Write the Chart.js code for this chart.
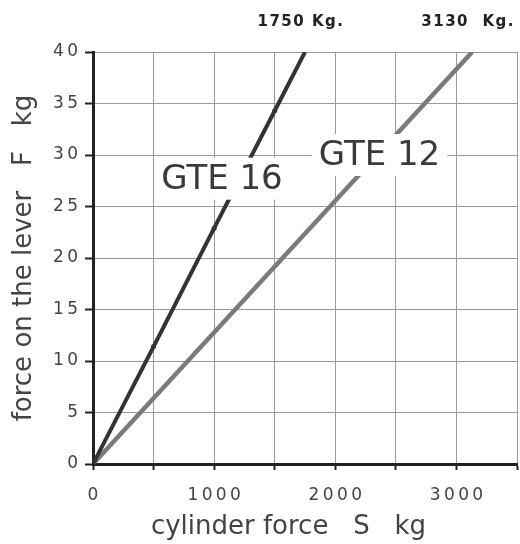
<!DOCTYPE html>
<html>
<head>
<meta charset="utf-8">
<script src="https://cdn.jsdelivr.net/npm/chart.js@4.4.1/dist/chart.umd.min.js"></script>
<style>
  html, body { margin: 0; padding: 0; background: #fff; }
  #wrap { width: 520px; height: 544px; }
</style>
</head>
<body>
<div id="wrap"><canvas id="leverChart"></canvas></div>
<script>
// cylinder force S (kg) vs force on the lever F (kg)
const gte16S = [0, 500, 1000, 1500, 1750];
const gte16F = [0, 11.4, 22.9, 34.3, 40];
const gte12S = [0, 3130];
const gte12F = [0, 40];

const xGridValues = [0, 500, 1000, 1500, 2000, 2500, 3000, 3500];
const xTickValues = [0, 1000, 2000, 3000];
const seriesNames = ['GTE 16', 'GTE 12'];
const capacityLabels = ['1750 Kg.', '3130  Kg.'];

function toPoints(xs, ys) {
  return xs.map((x, i) => ({ x: x, y: ys[i] }));
}

function spaced(v) {
  return String(v).split('').join('\u2009');
}

// series names drawn in white boxes on the plot, capacities above the top edge
const labelPlugin = {
  id: 'labelPlugin',
  afterDatasetsDraw(chart) {
    const { ctx, scales } = chart;
    const x = scales.x, y = scales.y;
    ctx.save();

    const boxes = [
      { text: seriesNames[0], sx: 1065, fy: 27.7 },
      { text: seriesNames[1], sx: 2365, fy: 30.0 }
    ];
    ctx.font = '34px "DejaVu Sans", sans-serif';
    ctx.textAlign = 'center';
    ctx.textBaseline = 'middle';
    boxes.forEach(b => {
      const px = x.getPixelForValue(b.sx);
      const py = y.getPixelForValue(b.fy);
      const w = ctx.measureText(b.text).width + 14;
      ctx.fillStyle = '#fff';
      ctx.fillRect(px - w / 2, py - 21, w, 42);
      ctx.fillStyle = '#3a3a3a';
      ctx.fillText(b.text, px, py + 1);
    });

    ctx.font = 'bold 15px "DejaVu Sans", sans-serif';
    ctx.letterSpacing = '1.5px';
    ctx.fillStyle = '#222';
    const ends = [gte16S[gte16S.length - 1], gte12S[gte12S.length - 1]];
    ends.forEach((s, i) => {
      ctx.fillText(capacityLabels[i], x.getPixelForValue(s) - 4, chart.chartArea.top - 30);
    });
    ctx.restore();
  }
};

new Chart(document.getElementById('leverChart').getContext('2d'), {
  type: 'scatter',
  data: {
    datasets: [
      {
        label: seriesNames[0],
        data: toPoints(gte16S, gte16F),
        showLine: true,
        borderColor: '#333',
        backgroundColor: '#333',
        borderWidth: 4,
        pointRadius: [0, 2.5, 2.5, 2.5, 0],
        pointBorderWidth: 0
      },
      {
        label: seriesNames[1],
        data: toPoints(gte12S, gte12F),
        showLine: true,
        borderColor: '#7a7a7a',
        backgroundColor: '#7a7a7a',
        borderWidth: 4.5,
        pointRadius: 0
      }
    ]
  },
  options: {
    responsive: true,
    maintainAspectRatio: false,
    animation: false,
    layout: { padding: { top: 52, right: 3, left: 0, bottom: 0 } },
    plugins: {
      legend: { display: false },
      tooltip: { enabled: false }
    },
    scales: {
      x: {
        type: 'linear',
        min: 0,
        max: 3500,
        afterFit: scale => {
          scale.height = 80;
          scale.paddingLeft = 0;
          scale.paddingRight = 0;
        },
        afterBuildTicks: scale => {
          scale.ticks = xGridValues.map(v => ({ value: v }));
        },
        ticks: {
          autoSkip: false,
          maxRotation: 0,
          padding: 15,
          color: '#444',
          font: { family: '"DejaVu Sans", sans-serif', size: 17 },
          callback: v => (xTickValues.includes(v) ? spaced(v) : '')
        },
        grid: {
          color: '#9a9a9a',
          lineWidth: 1,
          tickColor: '#222',
          tickLength: 6,
          tickWidth: 2
        },
        border: { color: '#222', width: 3 },
        title: {
          display: true,
          text: 'cylinder force   S   kg    ',
          color: '#444',
          font: { family: '"DejaVu Sans", sans-serif', size: 26 },
          padding: { top: 0, bottom: 1 }
        }
      },
      y: {
        min: 0,
        max: 40,
        afterFit: scale => { scale.width = 93; },
        ticks: {
          stepSize: 5,
          padding: 7,
          color: '#444',
          font: { family: '"DejaVu Sans", sans-serif', size: 17 },
          callback: v => spaced(v)
        },
        grid: {
          color: '#9a9a9a',
          lineWidth: 1,
          tickColor: '#222',
          tickLength: 8,
          tickWidth: 2
        },
        border: { color: '#222', width: 3 },
        title: {
          display: true,
          text: 'force on the lever   F   kg',
          color: '#444',
          font: { family: '"DejaVu Sans", sans-serif', size: 26 },
          padding: { top: 9, bottom: 9 }
        }
      }
    }
  },
  plugins: [labelPlugin]
});
</script>
</body>
</html>
